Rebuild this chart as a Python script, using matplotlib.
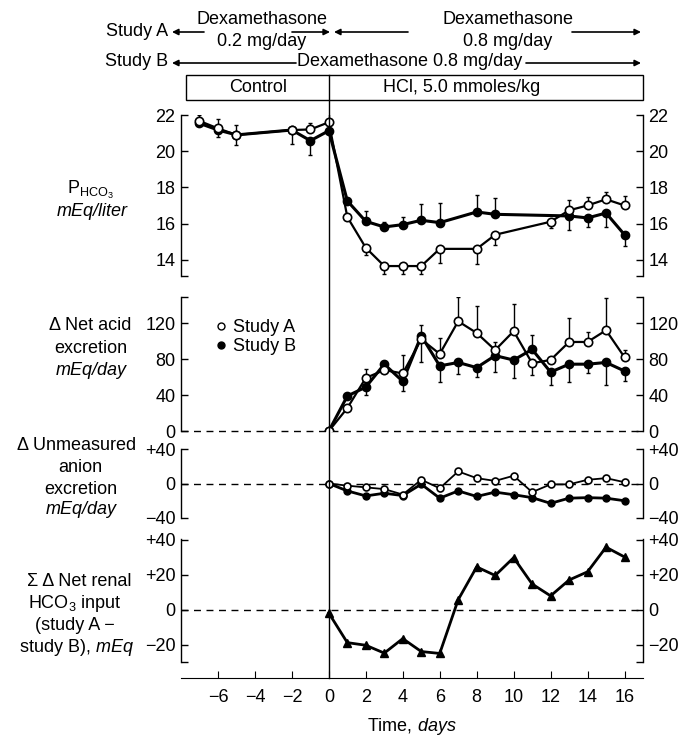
import numpy as np
import matplotlib
matplotlib.use("Agg")
import matplotlib.pyplot as plt
from matplotlib.lines import Line2D
from matplotlib.patches import Rectangle

plt.rcParams['font.family'] = ['Liberation Sans', 'DejaVu Sans']
plt.rcParams['mathtext.fontset'] = 'custom'
plt.rcParams['mathtext.rm'] = 'Liberation Sans'
plt.rcParams['mathtext.it'] = 'Liberation Sans:italic'
plt.rcParams['font.size'] = 13

# ---- data ----
# plasma bicarbonate, mEq/liter
p_days_a = [-7, -6, -5, -2, -1, 0, 1, 2, 3, 4, 5, 6, 8, 9, 12, 13, 14, 15, 16]
p_a = [21.67, 21.26, 20.9, 21.17, 21.2, 21.6, 16.36, 14.66, 13.65, 13.65, 13.65,
       14.6, 14.6, 15.38, 16.1, 16.73, 17.0, 17.34, 17.0]
p_a_up = [0.35, 0.5, 0.55, 0, 0.35, 0.5, 0, 0, 0, 0, 0, 0, 0, 0, 0, 0.55, 0.45, 0.4, 0.55]
p_a_dn = [0, 0.5, 0.55, 0, 0, 0, 0, 0.4, 0.45, 0.45, 0.45, 0.8, 0.85, 0.55, 0.35, 0, 0, 0, 0]

p_days_b = [-7, -6, -5, -2, -1, 0, 1, 2, 3, 4, 5, 6, 8, 9, 13, 14, 15, 16]
p_b = [21.54, 21.17, 20.9, 21.17, 20.58, 21.13, 17.25, 16.12, 15.81, 15.94, 16.18,
       16.05, 16.64, 16.51, 16.42, 16.31, 16.58, 15.38]
p_b_up = [0, 0, 0, 0, 0, 0, 0, 0.55, 0.3, 0.4, 0.9, 1.1, 0.95, 0.9, 0, 0, 0, 0]
p_b_dn = [0, 0, 0, 0.8, 0.8, 0, 0, 0, 0, 0, 0, 0, 0, 0, 0.8, 0.5, 0.75, 0.6]

days = list(range(0, 17))

# delta net acid excretion, mEq/day
nae_a = [0, 25.5, 59, 67.8, 64, 102, 85.7, 122, 109, 90, 111, 75.4, 79, 99, 99, 112, 82]
nae_a_up = [0, 0, 10, 0, 20, 16, 18, 27, 30, 9, 30, 0, 0, 27, 11, 36, 8]
nae_a_dn = [0, 0, 0, 0, 0, 0, 0, 0, 0, 0, 0, 13, 0, 0, 0, 0, 0]
nae_b = [0, 38.9, 48.8, 74.3, 55.2, 106, 72.4, 76.2, 70.5, 83.8, 78.9, 90.7, 65.5,
         74.3, 74.3, 76.2, 66.7]
nae_b_up = [0, 0, 0, 0, 0, 0, 0, 0, 0, 0, 0, 16, 0, 0, 0, 0, 0]
nae_b_dn = [0, 0, 9, 0, 11, 29, 18, 13, 11, 18, 20, 0, 14, 20, 10, 25, 11]

# delta unmeasured anion excretion, mEq/day
ua_a = [0, -2.5, -4.5, -6.5, -12.8, 4.3, -5.5, 14, 6.2, 3, 9, -10, -1, -1, 4.3, 6.2, 1.5]
ua_b = [0, -8.6, -14.4, -11.3, -14, -0.8, -17, -8.6, -15, -10, -13, -16.4, -23, -17,
        -16.4, -17, -20]

# cumulative net renal HCO3 input (study A - study B), mEq
cum = [-2, -18.9, -20.4, -24.9, -16.6, -24, -25.1, 5.7, 24.5, 19.6, 29.8, 14.7, 7.9,
       17, 21.7, 35.8, 30.2]

W, H = 683, 737
fig = plt.figure(figsize=(W / 100, H / 100), dpi=100)


def box(top, bottom, left=181, right=643):
    return [left / W, 1 - bottom / H, (right - left) / W, (bottom - top) / H]


ax1 = fig.add_axes(box(115, 276))
ax2 = fig.add_axes(box(297, 431))
ax3 = fig.add_axes(box(449, 518))
ax4 = fig.add_axes(box(539, 662))
axes = [ax1, ax2, ax3, ax4]

for ax in axes:
    ax.set_xlim(-8, 17)
    ax.patch.set_alpha(0)
    ax.spines['top'].set_visible(False)
    ax.spines['bottom'].set_visible(False)
    for s in ('left', 'right'):
        ax.spines[s].set_linewidth(1.0)
    ax.tick_params(axis='y', which='both', direction='in', left=True, right=True,
                   labelleft=True, labelright=True, length=5, width=1.0, pad=4)
    ax.tick_params(axis='x', bottom=False, labelbottom=False)

ax4.spines['bottom'].set_visible(True)
ax4.spines['bottom'].set_position(('outward', 11.5))
ax4.tick_params(axis='x', bottom=True, labelbottom=True, direction='in', length=5, pad=8)
ax4.set_xticks(range(-6, 17, 2))
ax4.set_xlabel('Time, $\\it{days}$', labelpad=7)

ms_open = dict(marker='o', mfc='white', mec='black', mew=1.2, color='black')
ms_fill = dict(marker='o', mfc='black', mec='black', color='black')

# panel 1
ax1.errorbar(p_days_b, p_b, yerr=[p_b_dn, p_b_up], fmt='none', ecolor='black',
             elinewidth=1, capsize=1.5, zorder=2)
ax1.errorbar(p_days_a, p_a, yerr=[p_a_dn, p_a_up], fmt='none', ecolor='black',
             elinewidth=1, capsize=1.5, zorder=2)
ax1.plot(p_days_b, p_b, lw=2.2, ms=6, zorder=3, **ms_fill)
ax1.plot(p_days_a, p_a, lw=1.6, ms=6, zorder=4, **ms_open)
ax1.set_ylim(13.1, 22)
ax1.set_yticks([14, 16, 18, 20, 22])
ax1.set_yticks([13.1], minor=True)

# panel 2
ax2.errorbar(days, nae_b, yerr=[nae_b_dn, nae_b_up], fmt='none', ecolor='black',
             elinewidth=1, capsize=1.5, zorder=2)
ax2.errorbar(days, nae_a, yerr=[nae_a_dn, nae_a_up], fmt='none', ecolor='black',
             elinewidth=1, capsize=1.5, zorder=2)
ax2.plot(days, nae_b, lw=2.2, ms=6, zorder=3, **ms_fill)
ax2.plot(days, nae_a, lw=1.6, ms=6, zorder=4, **ms_open)
ax2.set_ylim(0, 149)
ax2.set_yticks([0, 40, 80, 120])
ax2.set_yticks([149], minor=True)
ax2.axhline(0, color='black', lw=1, ls=(0, (5, 4)), zorder=1, clip_on=False)
handles = [Line2D([], [], ls='none', marker='o', mfc='white', mec='black', ms=5),
           Line2D([], [], ls='none', marker='o', mfc='black', mec='black', ms=5)]
ax2.legend(handles, ['Study A', 'Study B'], loc='upper left', bbox_to_anchor=(0.055, 0.90),
           frameon=False, handlelength=0.6, handletextpad=0.4, labelspacing=0.1,
           borderpad=0)

# panel 3
ax3.plot(days, ua_b, lw=2.0, ms=5, zorder=3, **ms_fill)
ax3.plot(days, ua_a, lw=1.3, ms=5, zorder=4, **ms_open)
ax3.set_ylim(-40, 40)
ax3.set_yticks([-40, 0, 40])
ax3.set_yticklabels(['\u221240', '0', '+40'])
ax3.axhline(0, color='black', lw=1, ls=(0, (5, 4)), zorder=1)

# panel 4
ax4.plot(days, cum, color='black', lw=2.0, marker='^', ms=6, zorder=3)
ax4.set_ylim(-30, 40.5)
ax4.set_yticks([-20, 0, 20, 40])
ax4.set_yticklabels(['\u221220', '0', '+20', '+40'])
ax4.set_yticks([-30], minor=True)
ax4.axhline(0, color='black', lw=1, ls=(0, (5, 4)), zorder=1)


# ---- left-hand labels ----
def ftxt(x, y, s, **kw):
    fig.text(x / W, 1 - y / H, s, ha='center', va='center', **kw)


ftxt(90, 190, 'P$_{\\mathrm{HCO_3}}$')
ftxt(92, 212, 'mEq/liter', style='italic')
ftxt(90, 326, '\u0394 Net acid')
ftxt(91, 348, 'excretion')
ftxt(91, 370, 'mEq/day', style='italic')
ftxt(77, 446, '\u0394 Unmeasured')
ftxt(80, 468, 'anion')
ftxt(81, 489, 'excretion')
ftxt(81, 510, 'mEq/day', style='italic')
ftxt(79, 581, '\u03a3 \u0394 Net renal')
ftxt(75, 603, 'HCO$_3$ input')
ftxt(75, 626, '(study A \u2212')
ftxt(76, 648, 'study B), $\\it{mEq}$')

# ---- header ----
ftxt(137, 31, 'Study A')
ftxt(137, 62, 'Study B')
ftxt(262, 20, 'Dexamethasone')
ftxt(262, 42, '0.2 mg/day')
ftxt(508, 20, 'Dexamethasone')
ftxt(508, 42, '0.8 mg/day')
ftxt(410, 61, 'Dexamethasone 0.8 mg/day')
ftxt(258, 88, 'Control')
ftxt(462, 88, 'HCl, 5.0 mmoles/kg')


def arrow(x0, x1, y):
    fig.add_artist(matplotlib.patches.FancyArrowPatch(
        (x0 / W, 1 - y / H), (x1 / W, 1 - y / H), transform=fig.transFigure,
        arrowstyle='-|>', mutation_scale=9, lw=1.2, color='black',
        shrinkA=0, shrinkB=0))


arrow(204, 172, 32)
arrow(292, 330, 32)
arrow(408, 334, 32)
arrow(572, 641, 32)
arrow(296, 172, 63)
arrow(526, 641, 63)

fig.add_artist(Rectangle((186 / W, 1 - 100 / H), (643 - 186) / W, 25 / H,
                         transform=fig.transFigure, fill=False, lw=1.0, ec='black'))

# vertical line at day 0 running through all panels
x0 = fig.transFigure.inverted().transform(ax1.transData.transform((0, 20)))[0]
fig.add_artist(Line2D([x0, x0], [1 - 75 / H, 1 - 678 / H], transform=fig.transFigure,
                      color='black', lw=1.0))

fig.savefig('out.png', dpi=100)
